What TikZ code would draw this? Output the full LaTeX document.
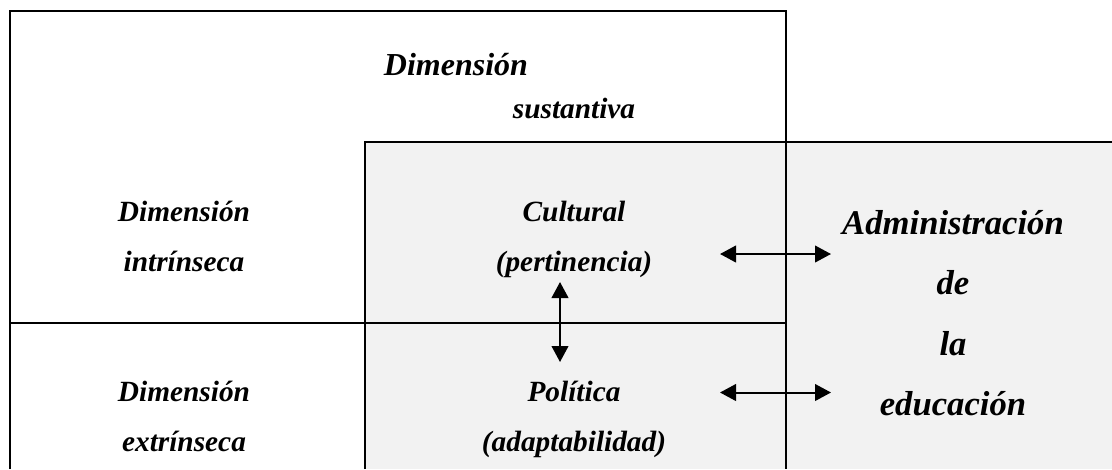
\documentclass[tikz,border=0pt]{standalone}
\usepackage{fontspec}
\setmainfont{Liberation Serif}
\usetikzlibrary{arrows.meta}

\begin{document}
\begin{tikzpicture}[x=0.75pt, y=-0.75pt,
        txt/.style={font=\fontsize{22}{26}\selectfont\bfseries\itshape, inner sep=0pt, anchor=base},
        bigtxt/.style={txt, font=\fontsize{26}{30}\selectfont\bfseries\itshape},
        toptxt/.style={txt, font=\fontsize{24}{28}\selectfont\bfseries\itshape},
        frame/.style={line width=1.5pt},
        dbl/.style={{Triangle[length=12pt,width=12.5pt]}-{Triangle[length=12pt,width=12.5pt]}, line width=1.5pt}]

        \useasboundingbox (0,0) rectangle (1112,469);

        % gray block
        \fill[gray!10] (365,142) rectangle (1112,469);
        \draw[frame] (365,469) |- (1112,142);
        \draw[frame] (9.5,469) |- (786,10.5) -- (786,469);
        \draw[frame] (9.5,322.5) -- (786,322.5);

        % texts
        \node[toptxt] (dimsus) at (456,75) {Dimensión};
        \node[txt] (sus) at (574,118) {sustantiva};
        \node[txt] (dimint) at (184,221) {Dimensión};
        \node[txt] (intr) at (184,271) {intrínseca};
        \node[txt] (dimext) at (184,401) {Dimensión};
        \node[txt] (extr) at (184,451) {extrínseca};
        \node[txt] (cult) at (574,221) {Cultural};
        \node[txt] (pert) at (574,271) {(pertinencia)};
        \node[txt] (pol) at (574,401) {Política};
        \node[txt] (adap) at (574,451) {(adaptabilidad)};
        \node[bigtxt] (adm) at (953,234) {Administración};
        \node[bigtxt] (de) at (953,294) {de};
        \node[bigtxt] (la) at (953,355) {la};
        \node[bigtxt] (edu) at (953,415) {educación};

        % arrows
        \coordinate (culL) at (720,254);
        \coordinate (culR) at (831,254);
        \coordinate (polL) at (720,392.5);
        \coordinate (polR) at (831,392.5);
        \coordinate (vtop) at (560,282);
        \coordinate (vbot) at (560,362);
        \draw[dbl] (culL) -- (culR);
        \draw[dbl] (polL) -- (polR);
        \draw[dbl] (vtop) -- (vbot);
\end{tikzpicture}
\end{document}
